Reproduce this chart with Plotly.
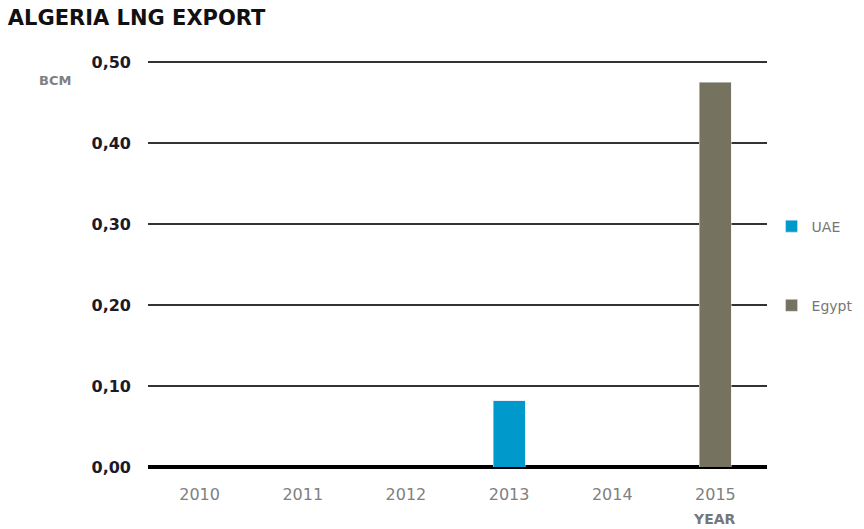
import plotly.graph_objects as go

years = ["2010", "2011", "2012", "2013", "2014", "2015"]
uae = [0, 0, 0, 0.082, 0, 0]
egypt = [0, 0, 0, 0, 0, 0.475]
y_ticks = [0.0, 0.1, 0.2, 0.3, 0.4, 0.5]

fig = go.Figure()
fig.add_trace(go.Bar(x=years, y=uae, name="UAE", marker_color="#0099cc",
                     width=0.31, legendgroup="a"))
fig.add_trace(go.Bar(x=years, y=egypt, name="Egypt", marker_color="#75735f",
                     width=0.31, legendgroup="b"))

fig.update_layout(
    width=864, height=529,
    margin=dict(l=148, r=97, t=58, b=62, autoexpand=False),
    plot_bgcolor="white", paper_bgcolor="white",
    barmode="stack",
    font=dict(family="DejaVu Sans", color="#777777"),
    title=dict(text="<b>ALGERIA LNG EXPORT</b>", x=0.009, xanchor="left",
               y=0.967, yanchor="middle",
               font=dict(size=21, color="#111111", family="DejaVu Sans")),
    legend=dict(xref="container", yref="container", x=0.893, y=0.602,
                xanchor="left", yanchor="top",
                tracegroupgap=58, font=dict(size=14, color="#777777"),
                itemwidth=30),
    showlegend=True,
)
fig.update_xaxes(type="category", showgrid=False, showline=False, zeroline=False,
                 tickfont=dict(size=16, color="#808080"),
                 ticks="outside", ticklen=13, tickcolor="rgba(0,0,0,0)")
fig.update_yaxes(range=[0, 0.505], tickvals=y_ticks,
                 ticktext=[f"{v:.2f}".replace(".", ",") for v in y_ticks],
                 showgrid=True, gridcolor="#333333", gridwidth=2,
                 zeroline=True, zerolinecolor="#000000", zerolinewidth=4,
                 showline=False, ticks="", ticklabelstandoff=16,
                 tickfont=dict(size=16, color="#1a1a2a", family="DejaVu Sans",
                               weight="bold"))

fig.add_annotation(text="<b>BCM</b>", x=(37 - 148) / 619, y=1 - (80 - 58) / 409,
                   xref="paper", yref="paper", xanchor="left", yanchor="middle",
                   showarrow=False, font=dict(size=13, color="#808080"))
fig.add_annotation(text="<b>YEAR</b>", x=(714 - 148) / 619, y=0, xref="paper",
                   yref="paper", yshift=-52, showarrow=False,
                   xanchor="center", yanchor="middle",
                   font=dict(size=14, color="#777777"))

fig.write_html("out.html")
